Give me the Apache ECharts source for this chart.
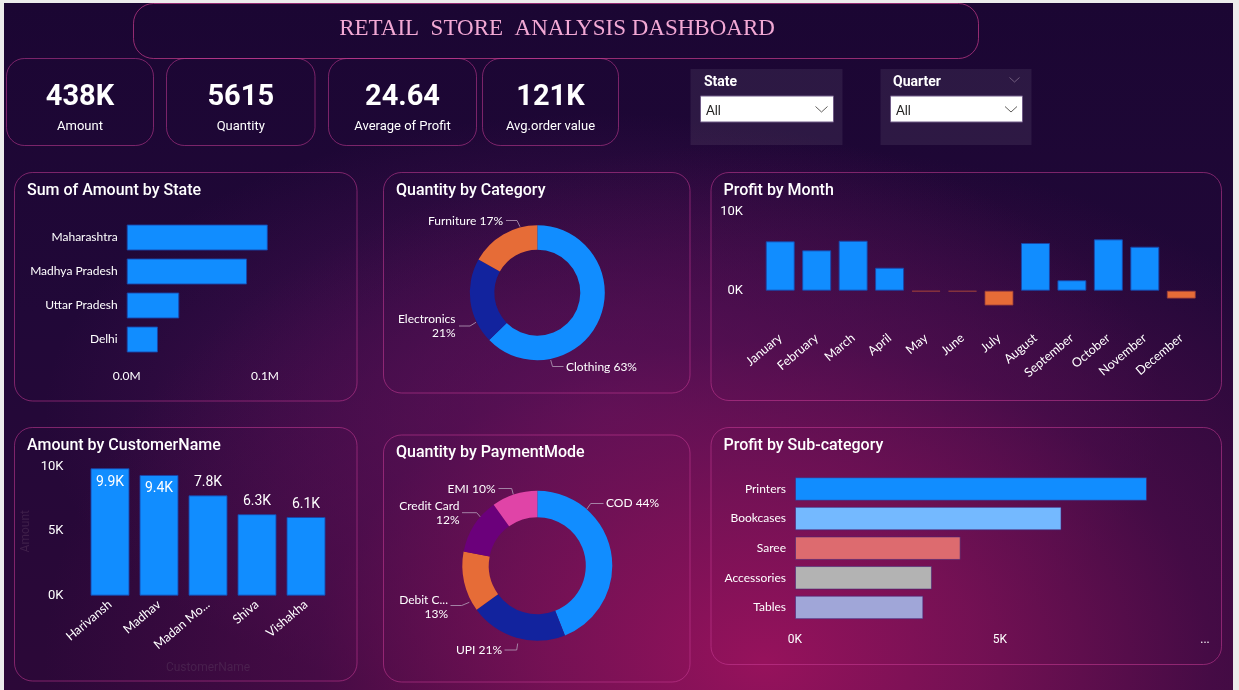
<!DOCTYPE html>
<html>
<head>
<meta charset="utf-8">
<script src="https://cdn.jsdelivr.net/npm/echarts@6/dist/echarts.min.js"></script>
<style>
html,body{margin:0;padding:0;width:1239px;height:690px;overflow:hidden;background:#ececec;}
#bg{position:absolute;left:4px;top:3px;width:1229px;height:687px;
background:
 radial-gradient(ellipse 720px 520px at 760px 660px, rgba(150,18,92,1) 0%, rgba(128,18,88,0.85) 30%, rgba(95,14,82,0.5) 62%, rgba(40,8,60,0) 100%),
 radial-gradient(ellipse 560px 300px at 600px 410px, rgba(115,25,110,0.6) 0%, rgba(115,25,110,0) 100%),
 linear-gradient(180deg, #1b0633 0%, #210838 45%, #2c0838 100%);}
#chart{position:absolute;left:0;top:0;width:1239px;height:690px;}
</style>
</head>
<body>
<div id="bg"></div>
<div id="chart"></div>
<script>
// ---------------- DATA ----------------
const kpiValues = ['438K', '5615', '24.64', '121K'];
const kpiLabels = ['Amount', 'Quantity', 'Average of Profit', 'Avg.order value'];

const states = ['Maharashtra', 'Madhya Pradesh', 'Uttar Pradesh', 'Delhi'];
const stateAmount = [102000, 87000, 38000, 22600];
const stateTickLabels = ['0.0M', '0.1M'];

const categories = ['Clothing', 'Electronics', 'Furniture'];
const categoryQty = [3516, 1154, 945];

const months = ['January', 'February', 'March', 'April', 'May', 'June', 'July',
  'August', 'September', 'October', 'November', 'December'];
const monthProfit = [6250, 5110, 6330, 2910, -120, -130, -1880, 6040, 1320, 6500, 5570, -1000];

const customers = ['Harivansh', 'Madhav', 'Madan Mo...', 'Shiva', 'Vishakha'];
const customerAmount = [9880, 9360, 7780, 6320, 6100];

const paymentModes = ['COD', 'UPI', 'Debit Card', 'Credit Card', 'EMI'];
const paymentLabelNames = ['COD', 'UPI', 'Debit C...', 'Credit Card', 'EMI'];
const paymentQty = [2470, 1180, 730, 680, 555];

const subCategories = ['Printers', 'Bookcases', 'Saree', 'Accessories', 'Tables'];
const subProfit = [8585, 6500, 4040, 3340, 3130];
const subTickLabels = ['0K', '5K', '...'];

// ---------------- STYLE ----------------
const SEGOE = 'Lato, "Segoe UI", "Noto Sans", sans-serif';
const DIN = 'Roboto, "DejaVu Sans", sans-serif';
const BLUE = '#118DFF';
const DARKBLUE = '#12239E';
const ORANGE = '#E66C37';
const PURPLE = '#6B007B';
const PINK = '#E044A7';
const subColors = ['#118DFF', '#74B9FF', '#DD6B6F', '#B3B3B3', '#A0A6D8'];
const BORDER = 'rgba(200,60,150,0.55)';
const FAINT = 'rgba(90,60,95,0.45)';
const LEADER = 'rgba(175,150,180,0.85)';

function txt(x, y, text, size, weight, fill, align, family) {
  return { type: 'text', silent: true, z: 10,
    style: { x: x, y: y, text: text, fontSize: size, fontWeight: weight, fontFamily: family,
      fill: fill, align: align, verticalAlign: 'middle', textAlign: align, textVerticalAlign: 'middle' } };
}
function box(x, y, w, h, r, fill, stroke) {
  return { type: 'rect', silent: true, z: 1,
    shape: { x: x, y: y, width: w, height: h, r: r },
    style: { fill: fill || 'none', stroke: stroke || null, lineWidth: 1 } };
}
function chevron(x, y, w, h, color) {
  return { type: 'polyline', silent: true, z: 10,
    shape: { points: [[x, y], [x + w / 2, y + h], [x + w, y]] },
    style: { stroke: color, lineWidth: 1, fill: null } };
}

// ---------------- LAYOUT (frames) ----------------
const elements = [];
elements.push(box(133.5, 3.5, 845, 55, 20, null, 'rgba(200,60,140,0.7)'));
elements.push(txt(557, 29, 'RETAIL  STORE  ANALYSIS DASHBOARD', 23, 'normal', '#f2a8d4', 'center',
  '"Liberation Serif", "Times New Roman", serif'));

const kpiBoxes = [[6.5, 58.5, 147, 87], [166.5, 58.5, 148.5, 87], [328.5, 58.5, 148, 87], [482.5, 58.5, 136, 87]];
kpiBoxes.forEach(function (b, i) {
  elements.push(box(b[0], b[1], b[2], b[3], 18, null, BORDER));
  const cx = b[0] + b[2] / 2;
  elements.push(txt(cx, 97.5, kpiValues[i], 29, 'bold', '#ffffff', 'center', DIN));
  elements.push(txt(cx, 127, kpiLabels[i], 13, 'normal', '#ffffff', 'center', DIN));
});

// slicers
elements.push(box(690.5, 69, 152, 76, 0, 'rgba(255,255,255,0.075)', null));
elements.push(box(880.5, 69, 151, 76, 0, 'rgba(255,255,255,0.075)', null));
elements.push(txt(704, 82.5, 'State', 14, 'bold', '#ffffff', 'left', DIN));
elements.push(txt(893, 82.5, 'Quarter', 14, 'bold', '#ffffff', 'left', DIN));
elements.push(box(700.5, 96, 133, 26, 0, '#ffffff', '#6f5a86'));
elements.push(box(890.5, 96, 132, 26, 0, '#ffffff', '#6f5a86'));
elements.push(txt(706, 110.5, 'All', 13, 'normal', '#252423', 'left', SEGOE));
elements.push(txt(896, 110.5, 'All', 13, 'normal', '#252423', 'left', SEGOE));
elements.push(chevron(815.5, 106.5, 12, 5.5, '#605e5c'));
elements.push(chevron(1005, 106.5, 12, 5.5, '#605e5c'));
elements.push(chevron(1009.5, 77.5, 10, 4.5, 'rgba(140,120,150,0.7)'));

// chart panels
const panels = [
  [14.5, 172.5, 342.5, 228.5, 'Sum of Amount by State', 190.5],
  [383.5, 172.5, 306.5, 220.5, 'Quantity by Category', 190.5],
  [711, 172.5, 510.5, 228, 'Profit by Month', 190.5],
  [14.5, 427.5, 342.5, 253.5, 'Amount by CustomerName', 445.5],
  [383.5, 435, 306.5, 247, 'Quantity by PaymentMode', 452.5],
  [711, 427.5, 510.5, 237, 'Profit by Sub-category', 445.5]
];
panels.forEach(function (p) {
  elements.push(box(p[0], p[1], p[2], p[3], 18, null, BORDER));
  elements.push(txt(p[0] + 12.5, p[5], p[4], 16, 500, '#ffffff', 'left', DIN));
});

// pie label placements (Power BI style leader lines)
const catLabelPos = [
  { x: 566, y: 367, align: 'left', line: [[550.7, 360], [552.5, 366.5], [563.5, 366.5]] },
  { x: 455.5, y: 326, align: 'right', line: [[476, 322.3], [470, 326], [459, 326]] },
  { x: 503, y: 221, align: 'right', line: [[520, 226.7], [517, 220.5], [506, 220.5]] }
];
const payLabelPos = [
  { x: 606, y: 503.5, align: 'left', line: [[586.7, 509.3], [590.7, 503.5], [603.5, 503.5]] },
  { x: 502, y: 650, align: 'right', line: [[517.7, 643.5], [516.7, 650], [504.5, 650]] },
  { x: 448, y: 606.7, align: 'right', line: [[469.3, 602.3], [461.7, 605.5], [450.5, 605.5]] },
  { x: 459.5, y: 513, align: 'right', line: [[480.7, 517.3], [476.7, 512.7], [462, 512.7]] },
  { x: 495.5, y: 489.5, align: 'right', line: [[513.3, 494.5], [511.7, 488.5], [498.5, 488.5]] }
];
function layoutFrom(list) {
  return function (params) {
    const p = list[params.dataIndex];
    return { x: p.x, y: p.y, align: p.align, verticalAlign: 'middle', labelLinePoints: p.line };
  };
}

const customerMax = 10000;

const option = {
  animation: false,
  backgroundColor: 'transparent',
  graphic: { elements: elements },
  grid: [
    { left: 126.7, top: 220.5, width: 207.5, height: 136 },
    { left: 762, top: 211.7, width: 437.5, height: 118.5 },
    { left: 85.5, top: 466.7, width: 245, height: 129 },
    { left: 795, top: 474.2, width: 410, height: 148 }
  ],
  xAxis: [
    { gridIndex: 0, type: 'value', min: 0, max: 150000, interval: 100000,
      splitLine: { show: false }, axisLine: { show: false }, axisTick: { show: false },
      axisLabel: { color: '#ffffff', fontSize: 12, fontFamily: SEGOE, margin: 14,
        formatter: function (v) { return v % 100000 === 0 ? stateTickLabels[v / 100000] : ''; } } },
    { gridIndex: 1, type: 'category', data: months,
      axisLine: { show: false, onZero: false }, axisTick: { show: false },
      axisLabel: { color: '#ffffff', fontSize: 12.5, fontFamily: SEGOE, rotate: 40, interval: 0, margin: 6 } },
    { gridIndex: 2, type: 'category', data: customers,
      axisLine: { show: false }, axisTick: { show: false },
      name: 'CustomerName', nameLocation: 'middle', nameGap: 66,
      nameTextStyle: { color: FAINT, fontSize: 12, fontFamily: DIN },
      axisLabel: { color: '#ffffff', fontSize: 12.5, fontFamily: SEGOE, rotate: 40, interval: 0, margin: 7 } },
    { gridIndex: 3, type: 'value', min: 0, max: 10000, interval: 5000,
      splitLine: { show: false }, axisLine: { show: false }, axisTick: { show: false },
      axisLabel: { color: '#ffffff', fontSize: 12, fontFamily: DIN, margin: 12,
        formatter: function (v) { return subTickLabels[Math.round(v / 5000)]; } } }
  ],
  yAxis: [
    { gridIndex: 0, type: 'category', data: states, inverse: true,
      axisLine: { show: false }, axisTick: { show: false },
      axisLabel: { color: '#ffffff', fontSize: 12, fontFamily: SEGOE, margin: 9 } },
    { gridIndex: 1, type: 'value', min: -5000, max: 10000, interval: 5000,
      splitLine: { show: false }, axisLine: { show: false }, axisTick: { show: false },
      axisLabel: { color: '#ffffff', fontSize: 13, fontFamily: DIN, margin: 19,
        formatter: function (v) { return (v === 0 || v === 10000) ? (v / 1000) + 'K' : ''; } } },
    { gridIndex: 2, type: 'value', min: 0, max: customerMax, interval: 5000,
      splitLine: { show: false }, axisLine: { show: false }, axisTick: { show: false },
      name: 'Amount', nameLocation: 'middle', nameGap: 54,
      nameTextStyle: { color: FAINT, fontSize: 12, fontFamily: DIN },
      axisLabel: { color: '#ffffff', fontSize: 13, fontFamily: DIN, margin: 22,
        formatter: function (v) { return (v / 1000) + 'K'; } } },
    { gridIndex: 3, type: 'category', data: subCategories, inverse: true,
      axisLine: { show: false }, axisTick: { show: false },
      axisLabel: { color: '#ffffff', fontSize: 12, fontFamily: SEGOE, margin: 9 } }
  ],
  series: [
    { type: 'bar', xAxisIndex: 0, yAxisIndex: 0, data: stateAmount, barWidth: 26,
      itemStyle: { color: BLUE, borderColor: 'rgba(25,70,170,0.9)', borderWidth: 1 } },
    { type: 'bar', xAxisIndex: 1, yAxisIndex: 1, barWidth: 29,
      data: monthProfit.map(function (v) {
        return { value: v, itemStyle: { color: v < 0 ? ORANGE : BLUE,
          borderColor: v < 0 ? 'rgba(150,60,60,0.8)' : 'rgba(25,70,170,0.9)', borderWidth: 1 } };
      }) },
    { type: 'bar', xAxisIndex: 2, yAxisIndex: 2, barWidth: 39,
      itemStyle: { color: BLUE, borderColor: 'rgba(25,70,170,0.9)', borderWidth: 1 },
      data: customerAmount.map(function (v) {
        const inside = v / customerMax > 0.88;
        return { value: v, label: { position: inside ? 'insideTop' : 'top', distance: inside ? 7 : 6 } };
      }),
      label: { show: true, color: '#ffffff', fontSize: 14, fontFamily: DIN,
        formatter: function (p) { return (p.value / 1000).toFixed(1) + 'K'; } } },
    { type: 'bar', xAxisIndex: 3, yAxisIndex: 3, barWidth: 23.5,
      data: subProfit.map(function (v, i) {
        return { value: v, itemStyle: { color: subColors[i] } };
      }),
      itemStyle: { borderColor: 'rgba(70,40,120,0.6)', borderWidth: 1 } },
    { type: 'pie', center: [537.3, 292.7], radius: [43, 67.5], startAngle: 90, clockwise: true,
      avoidLabelOverlap: false, silent: true,
      data: categories.map(function (c, i) { return { name: c, value: categoryQty[i] }; }),
      color: [BLUE, DARKBLUE, ORANGE],
      itemStyle: { borderWidth: 0 },
      label: { show: true, color: '#ffffff', fontSize: 12, fontFamily: SEGOE, lineHeight: 14,
        formatter: function (p) {
          const pct = Math.round(p.percent) + '%';
          return p.name === 'Electronics' ? p.name + '\n' + pct : p.name + ' ' + pct;
        } },
      labelLine: { show: true, lineStyle: { color: LEADER, width: 1 } },
      labelLayout: layoutFrom(catLabelPos) },
    { type: 'pie', center: [537.3, 565.7], radius: [48.5, 75], startAngle: 90, clockwise: true,
      avoidLabelOverlap: false, silent: true,
      data: paymentModes.map(function (c, i) { return { name: c, value: paymentQty[i] }; }),
      color: [BLUE, DARKBLUE, ORANGE, PURPLE, PINK],
      itemStyle: { borderWidth: 0 },
      label: { show: true, color: '#ffffff', fontSize: 12, fontFamily: SEGOE, lineHeight: 14,
        formatter: function (p) {
          const pct = Math.round(p.percent) + '%';
          const nm = paymentLabelNames[p.dataIndex];
          return (p.dataIndex === 2 || p.dataIndex === 3) ? nm + '\n' + pct : nm + ' ' + pct;
        } },
      labelLine: { show: true, lineStyle: { color: LEADER, width: 1 } },
      labelLayout: layoutFrom(payLabelPos) }
  ]
};

const chart = echarts.init(document.getElementById('chart'), null, { renderer: 'canvas' });
chart.setOption(option);
</script>
</body>
</html>
